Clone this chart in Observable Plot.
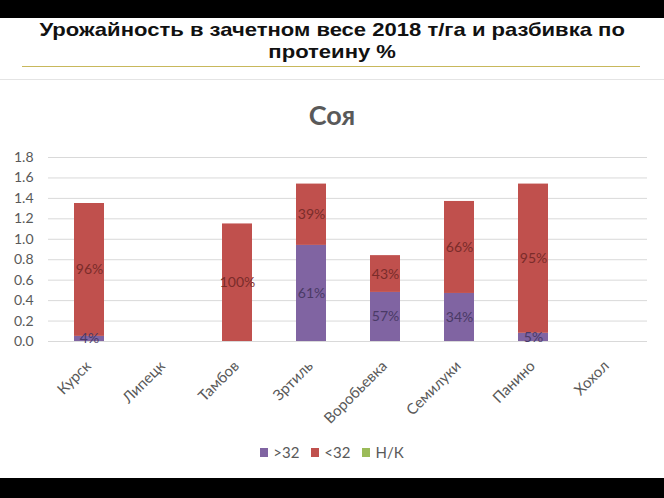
<!DOCTYPE html>
<html>
<head>
<meta charset="utf-8">
<script src="https://cdn.jsdelivr.net/npm/d3@7"></script>
<script src="https://cdn.jsdelivr.net/npm/@observablehq/plot@0.6"></script>
<style>
  html, body { margin: 0; padding: 0; background: #fff; }
  #page { position: relative; width: 664px; height: 498px; overflow: hidden; background: #fff; }
  .bar-top { position: absolute; left: 0; top: 0; width: 664px; height: 18px; background: #000; }
  .bar-bottom { position: absolute; left: 0; top: 478px; width: 664px; height: 20px; background: #000; }
  #title { position: absolute; left: 0; top: 19px; width: 664px; text-align: center;
    font-family: "Liberation Sans", Arial, sans-serif; font-weight: bold; font-size: 19px;
    line-height: 22px; color: #111; transform: scaleX(1.16); transform-origin: 331px 0; }
  .rule-yellow { position: absolute; left: 22px; top: 66px; width: 618px; height: 1px; background: #c8b85c; }
  .rule-gray { position: absolute; left: 0; top: 79px; width: 664px; height: 1px; background: #e4e4e4; }
  #chart-title { position: absolute; left: 0; top: 98px; width: 664px; text-align: center;
    font-family: Lato, "Open Sans", sans-serif; font-weight: bold; font-size: 27px; color: #595959; }
  #plot { position: absolute; left: 0; top: 140px; }
  #legend { position: absolute; left: 0; top: 443px; width: 664px; display: flex; justify-content: center;
    font-family: Lato, "Open Sans", sans-serif; font-size: 15px; color: #595959; }
  .item { display: flex; align-items: center; margin: 0 6px; }
  .sw { width: 8px; height: 9px; margin-right: 5px; }
</style>
</head>
<body>
<div id="page">
  <div class="bar-top"></div>
  <div id="title">Урожайность в зачетном весе 2018 т/га и разбивка по<br>протеину %</div>
  <div class="rule-yellow"></div>
  <div class="rule-gray"></div>
  <div id="chart-title">Соя</div>
  <div id="plot"></div>
  <div id="legend"></div>
  <div class="bar-bottom"></div>
</div>
<script>
const categories = ["Курск", "Липецк", "Тамбов", "Зртиль", "Воробьевка", "Семилуки", "Панино", "Хохол"];
const above32 = [0.05, 0, 0, 0.94, 0.48, 0.47, 0.08, 0];
const below32 = [1.30, 0, 1.15, 0.60, 0.36, 0.90, 1.46, 0];
const notKnown = [0, 0, 0, 0, 0, 0, 0, 0];
const labelsAbove = ["4%", "", "", "61%", "57%", "34%", "5%", ""];
const labelsBelow = ["96%", "", "100%", "39%", "43%", "66%", "95%", ""];
const seriesNames = [">32", "<32", "Н/К"];
const seriesColors = ["#8064A2", "#C0504D", "#9BBB59"];
const yTicks = [0, 0.2, 0.4, 0.6, 0.8, 1.0, 1.2, 1.4, 1.6, 1.8];

const rows = [];
categories.forEach((c, i) => {
  rows.push({cat: c, series: seriesNames[0], value: above32[i], label: labelsAbove[i]});
  rows.push({cat: c, series: seriesNames[1], value: below32[i], label: labelsBelow[i]});
  rows.push({cat: c, series: seriesNames[2], value: notKnown[i], label: ""});
});

const font = "Lato, 'Open Sans', sans-serif";

const chart = Plot.plot({
  width: 664,
  height: 290,
  marginTop: 17,
  marginBottom: 89,
  marginLeft: 48,
  marginRight: 17,
  style: {fontFamily: font, background: "transparent", overflow: "visible"},
  x: {domain: categories, paddingInner: 0.6, paddingOuter: 0.3, axis: null},
  y: {domain: [0, 1.8]},
  color: {domain: seriesNames, range: seriesColors},
  marks: [
    Plot.ruleY(yTicks, {stroke: "#d9d9d9", strokeWidth: 1}),
    Plot.barY(rows, {x: "cat", y: "value", fill: "series"}),
    Plot.text(rows, Plot.stackY({x: "cat", y: "value", z: "series",
      text: d => d.series === seriesNames[0] ? d.label : null,
      fill: "#4a3a66", fontSize: 14})),
    Plot.text(rows, Plot.stackY({x: "cat", y: "value", z: "series",
      text: d => d.series === seriesNames[1] ? d.label : null,
      fill: "#7a2c2a", fontSize: 14})),
    Plot.axisY({ticks: yTicks, tickSize: 0, tickPadding: 15, tickFormat: d3.format(".1f"),
      fontSize: 14, fill: "#595959", label: null}),
    Plot.text(categories, {x: d => d, y: () => 0, dy: 22, dx: -1, rotate: -45, textAnchor: "end",
      lineAnchor: "middle", fontSize: 15, fill: "#595959"})
  ]
});
document.getElementById("plot").appendChild(chart);

const legend = document.getElementById("legend");
seriesNames.forEach((s, i) => {
  const item = document.createElement("div");
  item.className = "item";
  const sw = document.createElement("div");
  sw.className = "sw";
  sw.style.background = seriesColors[i];
  const t = document.createElement("span");
  t.textContent = s;
  item.appendChild(sw);
  item.appendChild(t);
  legend.appendChild(item);
});
</script>
</body>
</html>
